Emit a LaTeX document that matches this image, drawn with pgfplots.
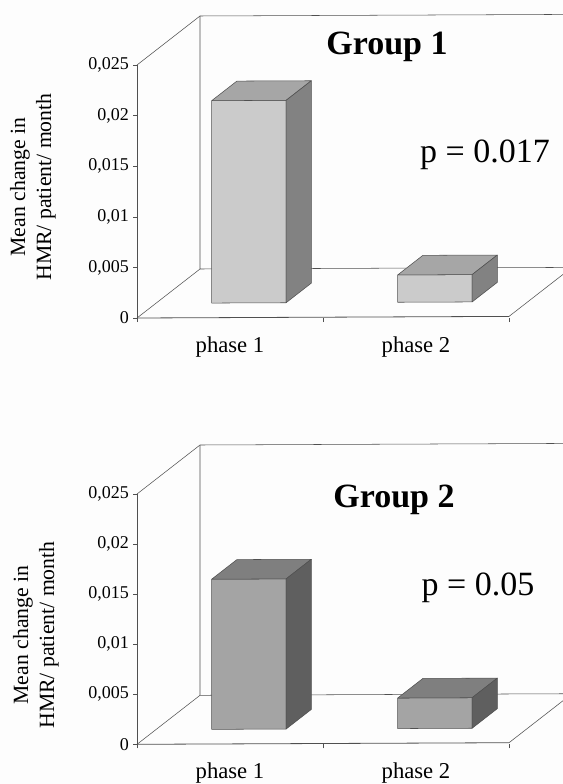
\documentclass[border=0pt]{standalone}
\usepackage{fontspec}
\setmainfont{Liberation Serif}
\usepackage{pgfplots}
\pgfplotsset{compat=1.18}

\definecolor{paper}{HTML}{FDFDFD}
\definecolor{frameline}{HTML}{505050}
\definecolor{lightfront}{HTML}{CBCBCB}
\definecolor{lighttop}{HTML}{A6A6A6}
\definecolor{lightside}{HTML}{828282}
\definecolor{darkfront}{HTML}{A4A4A4}
\definecolor{darktop}{HTML}{7F7F7F}
\definecolor{darkside}{HTML}{5F5F5F}

% One box: #1 left x, #2 right x, #3 value, #4 front, #5 top, #6 side colour.
% The depth always runs from 0.3 to 0.7 on the y axis.
\newcommand{\barbox}[6]{%
  \addplot3[draw=frameline,fill=#4,line join=round,no marks,thin] coordinates
    {(#1,0.3,0)(#2,0.3,0)(#2,0.3,#3)(#1,0.3,#3)(#1,0.3,0)};
  \addplot3[draw=frameline,fill=#5,line join=round,no marks,thin] coordinates
    {(#1,0.3,#3)(#2,0.3,#3)(#2,0.7,#3)(#1,0.7,#3)(#1,0.3,#3)};
  \addplot3[draw=frameline,fill=#6,line join=round,no marks,thin] coordinates
    {(#2,0.3,0)(#2,0.7,0)(#2,0.7,#3)(#2,0.3,#3)(#2,0.3,0)};
}

% Oblique box, back wall and floor of the chart
\pgfplotsset{
  boxframe/.style={
    hide axis,clip=false,anchor=origin,
    xmin=0,xmax=2,ymin=0,ymax=1,zmin=0,zmax=0.025,
    x={(139.5pt,0.6pt)},y={(47.25pt,36.75pt)},
  },
  frontscale/.style={
    scale only axis,anchor=south west,clip=false,
    width=279pt,
    xmin=0,xmax=2,ymin=0,ymax=0.025,
    scaled y ticks=false,
    axis y line*=left,axis x line*=bottom,
    x axis line style={draw=none},
    y axis line style={draw=frameline,thin},
    tick align=outside,
    major tick length=3pt,
    tick style={draw=frameline,thin},
    xtick={0,1,2},xticklabels={},
    extra x ticks={0.5,1.5},
    extra x tick labels={phase 1,phase 2},
    extra x tick style={
      major tick length=0pt,
      tick style={draw=none},
      xticklabel style={font=\fontsize{17}{19}\selectfont,yshift=-10.5pt},
    },
    ytick={0,0.005,0.01,0.015,0.02,0.025},
    yticklabels={0,{0,005},{0,01},{0,015},{0,02},{0,025}},
    yticklabel style={font=\fontsize{13.5}{15}\selectfont,xshift=0.5pt},
  },
  wall/.style={draw=frameline,thin,no marks},
}

\newcommand{\wallframe}{%
  \addplot3[wall] coordinates {(0,0,0.025)(0,1,0.025)(2,1,0.025)};
  \addplot3[wall] coordinates {(0,1,0.025)(0,1,0)(2,1,0)};
  \addplot3[wall] coordinates {(0,0,0)(0,1,0)};
  \addplot3[wall] coordinates {(2,0,0)(2,1,0)};
  \addplot3[draw=frameline,semithick,no marks] coordinates {(0,0,0)(2,0,0)};
}

\begin{document}
\begin{tikzpicture}[x=0.75pt,y=-0.75pt]
\useasboundingbox (0,0) rectangle (563,784);
\clip (0,0) rectangle (563,784);
\fill[paper] (0,0) rectangle (563,784);

% Group 1
\begin{axis}[boxframe,at={(102.75pt,-238.5pt)},z={(0pt,7590pt)}]
  \wallframe
  \barbox{0.3}{0.7}{0.02}{lightfront}{lighttop}{lightside}
  \barbox{1.3}{1.7}{0.0027}{lightfront}{lighttop}{lightside}
\end{axis}
\begin{axis}[frontscale,at={(102.75pt,-238.5pt)},height=189.75pt]
\end{axis}
\node[font=\fontsize{16.3}{19.5}\selectfont,rotate=90,align=center] at (33,187)
  {Mean change in\\HMR/ patient/ month};
\node[font=\bfseries\fontsize{25.5}{30}\selectfont] at (387,47) {Group 1};
\node[font=\fontsize{25.5}{30}\selectfont] at (485,155) {p = 0.017};

% Group 2
\begin{axis}[boxframe,at={(102.75pt,-558.225pt)},z={(0pt,7509pt)}]
  \wallframe
  \barbox{0.3}{0.7}{0.015}{darkfront}{darktop}{darkside}
  \barbox{1.3}{1.7}{0.00305}{darkfront}{darktop}{darkside}
\end{axis}
\begin{axis}[frontscale,at={(102.75pt,-558.225pt)},height=187.7pt]
\end{axis}
\node[font=\fontsize{16.3}{19.5}\selectfont,rotate=90,align=center] at (36,635)
  {Mean change in\\HMR/ patient/ month};
\node[font=\bfseries\fontsize{25.5}{30}\selectfont] at (394,500) {Group 2};
\node[font=\fontsize{25.5}{30}\selectfont] at (478,588) {p = 0.05};
\end{tikzpicture}
\end{document}
